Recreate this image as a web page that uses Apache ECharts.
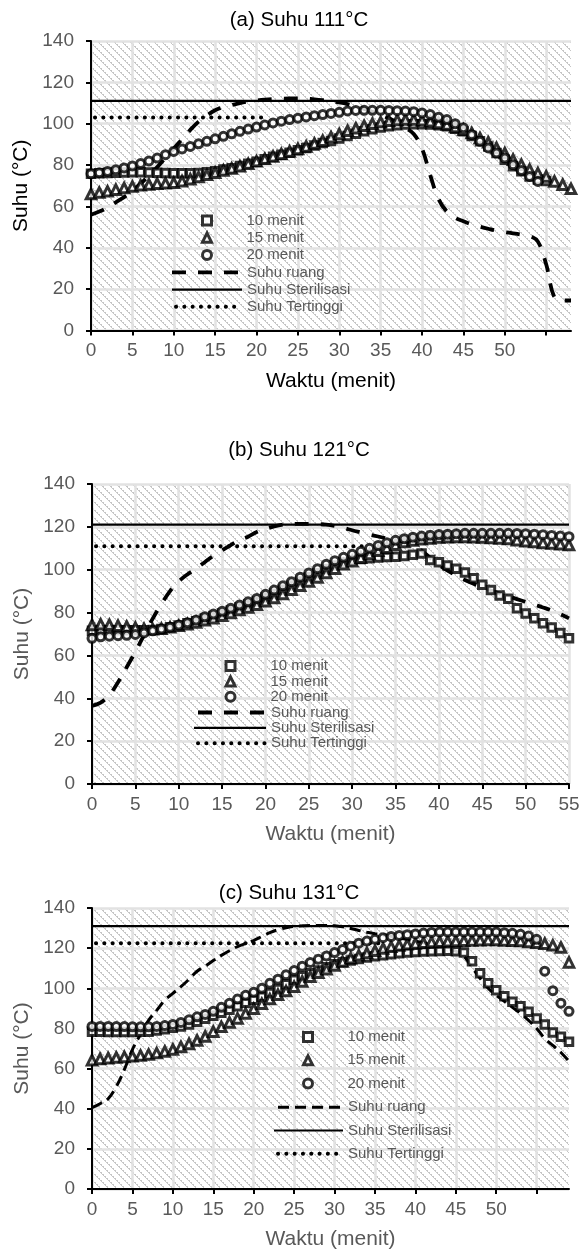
<!DOCTYPE html>
<html>
<head>
<meta charset="utf-8">
<script src="https://cdn.jsdelivr.net/npm/echarts@6/dist/echarts.min.js"></script>
<style>
  html, body { margin: 0; padding: 0; background: #fff; }
  #chart_suhu { width: 584px; height: 1251px; }
</style>
</head>
<body>
<div id="chart_suhu"></div>
<script>
  // waktu (menit), dipakai bersama oleh ketiga panel
  const menit = [0, 1, 2, 3, 4, 5, 6, 7, 8, 9, 10, 11, 12, 13, 14, 15, 16, 17, 18, 19,
    20, 21, 22, 23, 24, 25, 26, 27, 28, 29, 30, 31, 32, 33, 34, 35, 36, 37, 38, 39,
    40, 41, 42, 43, 44, 45, 46, 47, 48, 49, 50, 51, 52, 53, 54, 55, 56, 57, 58, 59]

  const labelTo50 = [0, 5, 10, 15, 20, 25, 30, 35, 40, 45, 50]
  const labelTo55 = [0, 5, 10, 15, 20, 25, 30, 35, 40, 45, 50, 55]
  const tickTo55 = [0, 5, 10, 15, 20, 25, 30, 35, 40, 45, 50, 55]

  // (a) Suhu 111°C
  const a10 = [75.8, 76, 76.2, 76.3, 76.4, 76.5, 76.5, 76.4, 76.3, 76.2, 76.1, 76.1, 76.1, 76.2, 76.5, 77, 77.8, 78.5, 79.5, 80.6,
    81.6, 82.8, 84, 85, 86, 87.2, 88.3, 89.5, 90.7, 91.7, 92.8, 94, 95.2, 96.3, 97.3, 98.2, 98.8, 99.3, 99.6, 99.7,
    99.7, 99.6, 99.3, 98.8, 97.6, 96.3, 94, 91.5, 89, 85.8, 82.6, 79.4, 77, 74.5, 73, 72.3]
  const a15 = [66, 66.7, 67.3, 68.1, 68.9, 69.6, 70.2, 70.6, 71, 71.2, 71.4, 72.2, 73.2, 74.2, 75.3, 76.3, 77.4, 78.4, 79.4, 80.6,
    81.8, 83, 84.2, 85.4, 86.6, 87.8, 89, 90.4, 91.8, 93.5, 95, 96.6, 97.8, 99, 100, 100.8, 101.4, 101.8, 102, 102,
    101.7, 101.2, 100.4, 99.6, 98.4, 97.1, 95.5, 93.1, 91, 88.3, 85.8, 82.6, 80.2, 77.8, 76.1, 74.5, 72.1, 70.5, 68.5]
  const a20 = [75.8, 76.3, 76.9, 77.7, 78.6, 79.6, 80.7, 82, 83.4, 85, 86.6, 87.8, 89, 90.3, 91.5, 92.7, 93.9, 95.1, 96.3, 97.4,
    98.4, 99.4, 100.4, 101.2, 102, 102.7, 103.3, 103.9, 104.4, 105, 105.5, 106.2, 106.4, 106.5, 106.5, 106.5, 106.4, 106.3, 106.1, 105.8,
    105.2, 104.4, 103.1, 102, 100, 98, 94.7, 91.5, 88.3, 85.8, 83.4, 80.2, 77.4, 74.5, 72.1]
  const aRuang = [56, 57.5, 59.5, 62, 64.5, 67.5, 71, 75, 79, 83.5, 88, 92.5, 97, 101, 104, 106.5, 108, 109, 110, 110.7,
    111.2, 111.6, 111.9, 112.1, 112.2, 112.2, 112.1, 111.8, 111.4, 110.9, 110.3, 109.5, 108.4, 107.2, 105.8, 104.3, 102.6, 100.6, 98, 95,
    88, 75, 63.5, 57.5, 54.5, 52.8, 51.3, 50.2, 49.2, 48.3, 47.6, 47, 46.4, 45.8, 43, 32, 16, 14.5, 14.5]
  const aSteril = [111, 111]
  const aSterilMenit = [0, 58]
  const aTinggi = [103, 103]
  const aTinggiMenit = [0, 21]

  // (b) Suhu 121°C
  const b10 = [71.5, 71.7, 71.8, 71.8, 71.8, 71.8, 71.8, 71.9, 72.3, 73.1, 74, 75, 76, 77.2, 78.4, 79.6, 81, 82.4, 83.8, 85.2,
    87, 88.8, 90.7, 92.6, 94.5, 96.5, 98.4, 100.3, 102, 103.4, 104.4, 105, 105.4, 105.7, 105.9, 106.1, 106.4, 107, 107.6, 104.5,
    103.5, 102, 100.5, 98.7, 96, 93, 90.5, 88, 86.5, 82, 79.6, 77.3, 75, 73, 70.5, 68]
  const b15 = [74.2, 74.5, 74.3, 73.9, 73.5, 73, 72.4, 72.2, 72.5, 73.1, 73.8, 74.6, 75.4, 76.4, 77.4, 78.5, 79.8, 81.2, 82.4, 83.6,
    85.3, 86.8, 88.7, 90.7, 92.5, 94.5, 96.4, 98.5, 100.5, 102.5, 104, 105.6, 107.3, 108.9, 110.3, 111.7, 112.9, 113.6, 114.2, 114.6,
    115, 115.2, 115.3, 115.3, 115.2, 115, 114.8, 114.6, 114.3, 113.8, 113.3, 112.9, 112.5, 112.2, 111.9, 111.5]
  const b20 = [68, 68.7, 69, 69.2, 69.4, 69.8, 70.5, 71.5, 72.3, 73.2, 74.2, 75.3, 76.5, 78, 79.3, 80.6, 82, 83.5, 85, 86.6,
    88.5, 90.5, 92.5, 94.4, 96.5, 98.5, 100.5, 102.5, 104.2, 105.8, 107.2, 108.6, 110, 111.3, 112.6, 113.7, 114.5, 115.2, 115.7, 116.1,
    116.4, 116.6, 116.8, 117, 117, 117, 117, 117, 117, 116.9, 116.8, 116.6, 116.3, 116, 115.7, 115.4]
  const bRuang = [36.5, 38, 41.5, 47.5, 54.5, 61.7, 69.5, 77.2, 84, 90, 94.5, 97.8, 100.5, 103.5, 106.5, 109, 111.5, 113.8, 115.4, 117.6,
    119, 120.2, 121, 121.3, 121.4, 121.4, 121.3, 121, 120.4, 119.5, 118.4, 117.4, 116.4, 115.5, 114.6, 113.8, 113, 111.5, 109, 105.5,
    102.3, 99.6, 97.3, 95.2, 93.4, 91.8, 90.3, 88.9, 87.6, 86.3, 85, 83.7, 82.4, 81, 79.3, 77.3]
  const bSteril = [121, 121]
  const bSterilMenit = [0, 55]
  const bTinggi = [111, 111]
  const bTinggiMenit = [0, 32]

  // (c) Suhu 131°C
  const c10 = [78.3, 78.3, 78.2, 78.2, 78.2, 78.2, 78.3, 78.4, 79, 79.6, 80.3, 81, 82, 83.3, 84.8, 86.3, 87.8, 89.3, 91, 92.8,
    94.3, 95.8, 97.6, 99.6, 102, 104.3, 106, 107.5, 108.8, 110.5, 112, 113, 113.8, 114.6, 115.3, 116, 116.5, 117, 117.4, 117.8,
    118.1, 118.3, 118.5, 118.6, 118.7, 118.5, 117.8, 113.5, 107.5, 102.5, 99, 96, 93.3, 91, 88.3, 85, 82, 78, 75.9, 73.4]
  const c15 = [64.2, 64.8, 65.2, 65.5, 65.8, 66.1, 66.5, 67, 67.7, 68.5, 69.5, 70.8, 72.3, 74, 76, 78.4, 80.8, 83, 85, 87.5,
    89.8, 92.3, 94.6, 96.8, 98.6, 100.8, 103.4, 105.8, 107.7, 109.5, 111.4, 113.3, 115, 116.4, 117.6, 118.7, 119.8, 120.7, 121.3, 121.9,
    122.3, 122.7, 123, 123.2, 123.4, 123.5, 123.7, 123.8, 123.9, 124, 124, 123.8, 123.7, 123.5, 123.1, 122.7, 122.2, 121.4, 120.3, 112.9]
  const c20 = [81, 81, 81, 80.9, 80.9, 80.8, 80.8, 80.8, 81, 81.4, 82, 83, 84.3, 85.8, 87, 88.5, 90.5, 92.5, 94.6, 96.5,
    98, 100, 102.5, 104.5, 106.7, 108.8, 111, 112.9, 114.5, 116.1, 117.8, 119.3, 121, 122.5, 123.5, 124.4, 125.2, 125.8, 126.3, 126.7,
    127.1, 127.5, 127.8, 128, 128, 128, 128, 128, 128, 128, 128, 127.7, 127.4, 126.9, 126, 124.4, 108.5, 98.8, 92.6, 88.5]
  const cRuang = [40.5, 42.5, 45, 51, 59.5, 69.5, 77, 84, 89, 94, 97.5, 100.8, 104.5, 108.5, 111, 113.8, 116.4, 118.7, 120.8, 122.3,
    123.8, 125.8, 127.7, 129.2, 130.2, 130.8, 131.1, 131.3, 131.3, 131.3, 131.1, 130.6, 129.8, 128.8, 127.9, 127.2, 126.6, 125.9, 125, 124.3,
    123.5, 122.7, 121.8, 120.9, 119.8, 118.5, 116, 110.5, 105, 100, 96.5, 93.5, 90.5, 87.5, 84, 80, 75, 71.5, 68, 63.6]
  const cSteril = [131, 131]
  const cSterilMenit = [0, 59]
  const cTinggi = [122.5, 122.5]
  const cTinggiMenit = [0, 36]

  const markerNames = ['10 menit', '15 menit', '20 menit']
  const lineNames = ['Suhu ruang', 'Suhu Sterilisasi', 'Suhu Tertinggi']
  const font = 'Liberation Sans, Arial, Helvetica, sans-serif'
  const abu = '#595959'

  function pairs (xs, ys) {
    return ys.map((v, i) => [xs[i], v])
  }

  // arsiran diagonal latar plot
  function makeHatch () {
    let c = document.createElement('canvas')
    c.width = 8
    c.height = 8
    let ctx = c.getContext('2d')
    ctx.fillStyle = '#ffffff'
    ctx.fillRect(0, 0, 8, 8)
    ctx.fillStyle = '#c6c6c6'
    for (let i = 0; i < 8; i++) {
      ctx.fillRect(i, i, 1, 1)
      if (i % 2 === 0) ctx.fillRect((i + 1) % 8, i, 1, 1)
    }
    return c
  }

  const panels = [
    {
      key: 'a', title: '(a) Suhu 111°C', titleTop: 5, titleLeft: 294, nameColor: '#000',
      grid: {left: 91, top: 41, width: 480, height: 289.5},
      xMax: 58, labels: labelTo50,
      legend: {symbolX: 205.5, lineLeft: 170, lineWidth: 70, top: 213, pitch: 17.3},
      dash: [14, 12], dashWidth: 3.8,
      s10: a10, s15: a15, s20: a20, ruang: aRuang,
      steril: pairs(aSterilMenit, aSteril), tinggi: pairs(aTinggiMenit, aTinggi)
    },
    {
      key: 'b', title: '(b) Suhu 121°C', titleTop: 435, titleLeft: 294, nameColor: abu,
      grid: {left: 92, top: 484, width: 477, height: 300},
      xMax: 55, labels: labelTo55,
      legend: {symbolX: 229, lineLeft: 192, lineWidth: 72, top: 658.5, pitch: 15.5},
      dash: [14, 12], dashWidth: 3.8,
      s10: b10, s15: b15, s20: b20, ruang: bRuang,
      steril: pairs(bSterilMenit, bSteril), tinggi: pairs(bTinggiMenit, bTinggi)
    },
    {
      key: 'c', title: '(c) Suhu 131°C', titleTop: 878, titleLeft: 284, nameColor: abu,
      grid: {left: 92, top: 908, width: 477, height: 284},
      xMax: 59, labels: labelTo50,
      legend: {symbolX: 306.5, lineLeft: 272, lineWidth: 69, top: 1029.5, pitch: 23.4},
      dash: [11, 6], dashWidth: 3,
      s10: c10, s15: c15, s20: c20, ruang: cRuang,
      steril: pairs(cSterilMenit, cSteril), tinggi: pairs(cTinggiMenit, cTinggi)
    }
  ]

  function drawChart (el) {
    let chart = echarts.init(el)
    let hatch = {image: makeHatch(), repeat: 'repeat'}
    let options = {
      animation: false,
      backgroundColor: '#fff',
      title: [], grid: [], xAxis: [], yAxis: [], legend: [], series: []
    }

    panels.forEach((p, i) => {
      let tag = '|' + p.key
      let lg = p.legend
      let dashStyle = {color: '#000', width: p.dashWidth, type: p.dash}
      let solidStyle = {color: '#000', width: 2.2, type: 'solid'}
      let dotStyle = {color: '#000', width: 4, type: [0.1, 8.2], cap: 'round', dashOffset: -4}
      let markerStyle = {color: '#fff', borderColor: '#000', borderWidth: 3}

      options.title.push({
        text: p.title, top: p.titleTop, left: p.titleLeft, textAlign: 'center',
        textStyle: {fontFamily: font, fontSize: 20.5, fontWeight: 'normal', color: '#000'}
      })
      options.grid.push(Object.assign({
        show: true, backgroundColor: hatch, borderWidth: 0, containLabel: false
      }, p.grid))
      options.xAxis.push({
        gridIndex: i, type: 'value', min: 0, max: p.xMax, interval: 2.5,
        axisLine: {show: true, onZero: false, lineStyle: {color: '#000', width: 2}},
        axisTick: {show: true, length: 5, customValues: tickTo55, lineStyle: {color: '#000', width: 2}},
        axisLabel: {customValues: p.labels, margin: 11, color: abu, fontSize: 19, fontFamily: font},
        splitLine: {show: true, lineStyle: {color: '#e2e2e2', width: 2.5}},
        name: 'Waktu (menit)', nameLocation: 'middle', nameGap: 40,
        nameTextStyle: {color: p.nameColor, fontSize: 21, fontFamily: font}
      })
      options.yAxis.push({
        gridIndex: i, type: 'value', min: 0, max: 140, interval: 20,
        axisLine: {show: true, lineStyle: {color: '#000', width: 2}},
        axisTick: {show: true, length: 5, lineStyle: {color: '#000', width: 2}},
        axisLabel: {margin: 17, color: abu, fontSize: 19, fontFamily: font},
        splitLine: {show: true, lineStyle: {color: '#e2e2e2', width: 2.5}},
        name: 'Suhu (°C)', nameLocation: 'middle', nameGap: 59, nameRotate: 90,
        nameTextStyle: {color: p.nameColor, fontSize: 21, fontFamily: font}
      })

      // legenda penanda: ikon kecil di tengah, teks digeser ke kanan
      let textX = lg.lineLeft + lg.lineWidth + 5
      options.legend.push({
        orient: 'vertical', left: lg.symbolX - 4.5, top: lg.top, padding: 0,
        itemWidth: 9, itemHeight: 9, itemGap: lg.pitch - 15.1,
        selectedMode: false,
        data: markerNames.map((n) => ({name: n + tag, itemStyle: markerStyle})),
        formatter: (name) => name.split('|')[0],
        textStyle: {
          color: abu, fontSize: 15, lineHeight: 14, fontFamily: font,
          padding: [0, 0, 0, textX - (lg.symbolX + 4.5 + 5)]
        }
      })
      options.legend.push({
        orient: 'vertical', left: lg.lineLeft, top: lg.top + 3 * lg.pitch, padding: 0,
        itemWidth: lg.lineWidth, itemHeight: 9, itemGap: lg.pitch - 15.1,
        selectedMode: false,
        data: [
          {name: lineNames[0] + tag, lineStyle: dashStyle},
          {name: lineNames[1] + tag, lineStyle: solidStyle},
          {name: lineNames[2] + tag, lineStyle: dotStyle}
        ],
        formatter: (name) => name.split('|')[0],
        textStyle: {color: abu, fontSize: 15, lineHeight: 14, fontFamily: font}
      })

      let lineBase = {
        type: 'line', xAxisIndex: i, yAxisIndex: i, symbol: 'none', silent: true, z: 2,
        itemStyle: {color: '#000', opacity: 0}
      }
      options.series.push(Object.assign({}, lineBase, {
        name: lineNames[0] + tag, smooth: 0.4, lineStyle: dashStyle,
        data: pairs(menit, p.ruang)
      }))
      options.series.push(Object.assign({}, lineBase, {
        name: lineNames[1] + tag, lineStyle: solidStyle, data: p.steril
      }))
      options.series.push(Object.assign({}, lineBase, {
        name: lineNames[2] + tag, lineStyle: dotStyle, data: p.tinggi
      }))

      let markers = [
        ['rect', 7.5, p.s10],
        ['triangle', 9.5, p.s15],
        ['circle', 8, p.s20]
      ]
      markers.forEach((m, k) => {
        options.series.push({
          name: markerNames[k] + tag, type: 'scatter', xAxisIndex: i, yAxisIndex: i,
          symbol: m[0], symbolSize: m[1],
          itemStyle: markerStyle, silent: true, z: 3 + k,
          data: pairs(menit, m[2])
        })
      })
    })

    chart.setOption(options)
  }

  drawChart(document.getElementById('chart_suhu'))
</script>
</body>
</html>
